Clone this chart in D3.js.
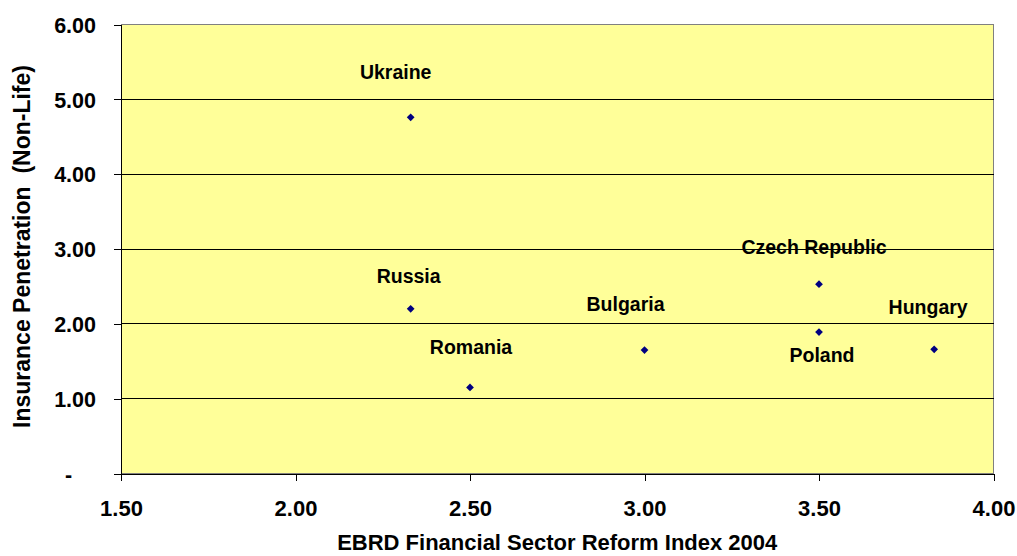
<!DOCTYPE html>
<html>
<head>
<meta charset="utf-8">
<script src="https://cdn.jsdelivr.net/npm/d3@7"></script>
<style>
  html, body { margin: 0; padding: 0; background: #ffffff; }
  svg { display: block; font-family: "Liberation Sans", Arial, sans-serif; font-weight: bold; }
</style>
</head>
<body>
<svg id="chart" width="1017" height="556"></svg>
<script>
// Countries and their values
const countries = ["Ukraine", "Russia", "Romania", "Bulgaria", "Czech Republic", "Poland", "Hungary"];
const reformIndex = [2.33, 2.33, 2.5, 3.0, 3.5, 3.5, 3.83];
const penetration = [4.76, 2.20, 1.15, 1.65, 2.53, 1.89, 1.66];

// Axis ticks
const xTicks = [1.5, 2.0, 2.5, 3.0, 3.5, 4.0];
const yTicks = [0, 1, 2, 3, 4, 5, 6];

// Text
const xTitle = "EBRD Financial Sector Reform Index 2004";
const yTitle = "Insurance Penetration  (Non-Life)";

// Label placement relative to each marker (pixels)
const labelOffset = {
  "Ukraine":        [-15, -38],
  "Russia":         [-2, -26],
  "Romania":        [1, -33],
  "Bulgaria":       [-19, -39],
  "Czech Republic": [-5, -30.5],
  "Poland":         [3, 30],
  "Hungary":        [-6, -35]
};

const plot = { left: 121, right: 993.5, top: 24.5, bottom: 473.5 };

const svg = d3.select("#chart");

const x = d3.scaleLinear().domain([1.5, 4]).range([plot.left, plot.right]);
const y = d3.scaleLinear().domain([0, 6]).range([plot.bottom, plot.top]);

// Plot area background and border
svg.append("rect")
  .attr("x", plot.left).attr("y", plot.top)
  .attr("width", plot.right - plot.left).attr("height", plot.bottom - plot.top)
  .attr("fill", "#FFFF99")
  .attr("stroke", "#808080").attr("stroke-width", 1)
  .attr("shape-rendering", "crispEdges");

// Horizontal gridlines
svg.append("g")
  .selectAll("line")
  .data(yTicks.filter(d => d > 0 && d < 6))
  .join("line")
  .attr("x1", plot.left).attr("x2", plot.right)
  .attr("y1", d => y(d)).attr("y2", d => y(d))
  .attr("stroke", "#000").attr("stroke-width", 1)
  .attr("shape-rendering", "crispEdges");

// Y axis
const yAxis = d3.axisLeft(y)
  .tickValues(yTicks)
  .tickSize(7)
  .tickPadding(18)
  .tickFormat(d => d === 0 ? "-    " : d3.format(".2f")(d));

const gy = svg.append("g")
  .attr("transform", `translate(${plot.left},0)`)
  .call(yAxis);
gy.select(".domain").attr("stroke", "#000").attr("shape-rendering", "crispEdges");
gy.selectAll(".tick line").attr("stroke", "#000").attr("shape-rendering", "crispEdges");
gy.selectAll(".tick text")
  .attr("fill", "#000")
  .style("font-family", "'Liberation Sans', Arial, sans-serif")
  .style("font-weight", "bold")
  .style("font-size", "21.5px")
  .style("white-space", "pre")
  .attr("dy", "0.36em");

// X axis
const xAxis = d3.axisBottom(x)
  .tickValues(xTicks)
  .tickSize(7)
  .tickPadding(20)
  .tickFormat(d3.format(".2f"));

const gx = svg.append("g")
  .attr("transform", `translate(0,${plot.bottom})`)
  .call(xAxis);
gx.select(".domain").attr("stroke", "#000").attr("shape-rendering", "crispEdges");
gx.selectAll(".tick line").attr("stroke", "#000").attr("shape-rendering", "crispEdges");
gx.selectAll(".tick text")
  .attr("fill", "#000")
  .style("font-family", "'Liberation Sans', Arial, sans-serif")
  .style("font-weight", "bold")
  .style("font-size", "22px");

// Axis titles
svg.append("text")
  .attr("x", (plot.left + plot.right) / 2)
  .attr("y", 550)
  .attr("text-anchor", "middle")
  .style("font-size", "22px")
  .attr("fill", "#000")
  .text(xTitle);

svg.append("text")
  .attr("transform", "translate(29.5,246.5) rotate(-90)")
  .attr("text-anchor", "middle")
  .style("font-size", "23px")
  .style("white-space", "pre")
  .attr("fill", "#000")
  .text(yTitle);

// Points
const points = countries.map((c, i) => ({ name: c, x: reformIndex[i], y: penetration[i] }));

svg.append("g")
  .selectAll("path")
  .data(points)
  .join("path")
  .attr("d", d3.symbol().type(d3.symbolSquare).size(30))
  .attr("transform", d => `translate(${x(d.x)},${y(d.y)}) rotate(45)`)
  .attr("fill", "#000080");

// Labels
svg.append("g")
  .selectAll("text")
  .data(points)
  .join("text")
  .attr("x", d => x(d.x) + labelOffset[d.name][0])
  .attr("y", d => y(d.y) + labelOffset[d.name][1])
  .attr("text-anchor", "middle")
  .style("font-size", "19.5px")
  .attr("fill", "#000")
  .text(d => d.name);
</script>
</body>
</html>
